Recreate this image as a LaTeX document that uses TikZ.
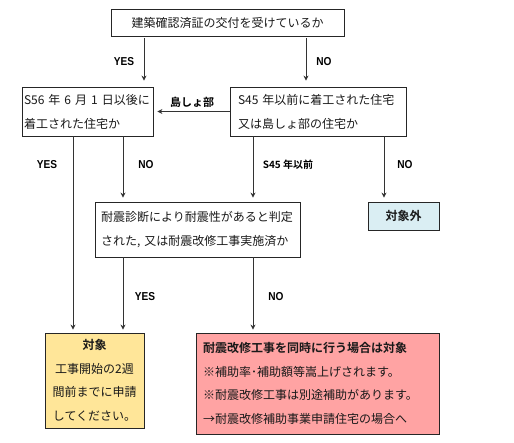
\documentclass[tikz,border=0pt]{standalone}
\usepackage{fontspec}
\setmainfont{Noto Sans CJK JP}[BoldFont={Noto Sans CJK JP Bold}]
\newfontfamily\labfont{Liberation Sans}[FakeStretch=0.88]
\usetikzlibrary{arrows.meta}
\definecolor{okfill}{HTML}{FFE699}
\definecolor{pkfill}{HTML}{FFA3A3}
\definecolor{outfill}{HTML}{DAEEF3}
\begin{document}
\begin{tikzpicture}[x=1pt,y=-1pt,
  box/.style={draw=black!85, line width=0.8pt, inner sep=0pt, text=black!90,
              font=\fontsize{12}{24}\selectfont},
  arr/.style={draw=black!80, line width=0.8pt, -{Stealth[length=5pt,width=5pt]}},
  lab/.style={inner sep=0pt, font=\labfont\bfseries\fontsize{11.5}{12}\selectfont},
  jlab/.style={inner sep=0pt, font=\bfseries\fontsize{10}{12}\selectfont}]
\useasboundingbox (0,0) rectangle (514,442);

% boxes
\node[box, minimum width=233pt, minimum height=27pt] (q1) at (227.5,22.5)
  {建築確認済証の交付を受けているか};
\node[box, minimum width=131pt, minimum height=49pt, text width=127pt, align=left] (q2) at (87.5,111.5)
  {S56 年 6 月 1 日以後に\\着工された住宅か};
\node[box, minimum width=176pt, minimum height=49pt, text width=160pt, align=left] (q3) at (318,111.5)
  {S45 年以前に着工された住宅\\又は島しょ部の住宅か};
\node[box, minimum width=205pt, minimum height=55pt, text width=193pt, align=left] (q4) at (197.5,229.5)
  {耐震診断により耐震性があると判定\\された, 又は耐震改修工事実施済か};
\node[box, fill=outfill, minimum width=71pt, minimum height=28pt, font=\bfseries\fontsize{12}{14}\selectfont] (out) at (403.5,216)
  {対象外};
\node[box, fill=okfill, minimum width=99pt, minimum height=95pt, text width=99pt, align=center,
      font=\fontsize{12}{23.5}\selectfont] (ok) at (94.5,380.5)
  {\textbf{対象}\\工事開始の2週\\間前までに申請\\してください。};
\node[box, fill=pkfill, minimum width=243pt, minimum height=101pt, text width=229pt, align=left,
      font=\fontsize{12}{23.5}\selectfont] (pk) at (317.5,383.5)
  {\textbf{耐震改修工事を同時に行う場合は対象}\\※補助率･補助額等嵩上げされます。\\※耐震改修工事は別途補助があります。\\→耐震改修補助事業申請住宅の場合へ};

% column coordinates
\coordinate (xa) at (144,0);
\coordinate (xb) at (306,0);
\coordinate (xc) at (73,0);
\coordinate (xd) at (123,0);
\coordinate (xe) at (253,0);
\coordinate (xf) at (384,0);

% connectors
\draw[arr, shorten <=2pt, shorten >=6pt] (q1.south -| xa) -- (q2.north -| xa);
\draw[arr, shorten <=2pt, shorten >=6pt] (q1.south -| xb) -- (q3.north -| xb);
\draw[arr, shorten >=4pt] (q3.west) -- (q2.east);
\draw[arr, shorten >=3pt] (q2.south -| xc) -- (ok.north -| xc);
\draw[arr, shorten >=4pt] (q2.south -| xd) -- (q4.north -| xd);
\draw[arr, shorten >=4pt] (q3.south -| xe) -- (q4.north -| xe);
\draw[arr, shorten >=4pt] (q3.south -| xf) -- (out.north -| xf);
\draw[arr, shorten >=3pt] (q4.south -| xd) -- (ok.north -| xd);
\draw[arr, shorten >=3pt] (q4.south -| xe) -- (pk.north -| xe);

% labels
\node[lab] (l1) at (124,62) {YES};
\node[lab] (l2) at (324,62) {NO};
\node[jlab, font=\bfseries\fontsize{11}{12}\selectfont] (l3) at (192,102) {島しょ部};
\node[lab] (l4) at (47,165) {YES};
\node[lab] (l5) at (146,165) {NO};
\node[jlab] (l6) at (288,165) {S45 年以前};
\node[lab] (l7) at (405,165) {NO};
\node[lab] (l8) at (145,297) {YES};
\node[lab] (l9) at (276,297) {NO};
\end{tikzpicture}
\end{document}
